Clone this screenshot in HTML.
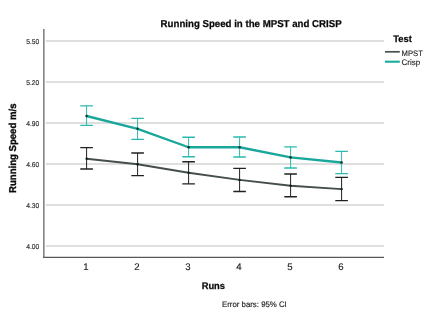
<!DOCTYPE html>
<html><head><meta charset="utf-8">
<style>
html,body{margin:0;padding:0;background:#fff;}
body{width:434px;height:317px;overflow:hidden;}
svg{display:block;will-change:transform;text-rendering:geometricPrecision;font-family:"Liberation Sans",sans-serif;}
</style></head><body>
<svg width="434" height="317" viewBox="0 0 434 317">
<rect width="434" height="317" fill="#fff"/>
<g stroke="#d4d4d4" stroke-width="1.4" fill="none">
<line x1="45.8" x2="384" y1="41.0" y2="41.0"/><line x1="45.8" x2="384" y1="82.0" y2="82.0"/><line x1="45.8" x2="384" y1="123.0" y2="123.0"/><line x1="45.8" x2="384" y1="164.0" y2="164.0"/><line x1="45.8" x2="384" y1="205.0" y2="205.0"/><line x1="45.8" x2="384" y1="246.05" y2="246.05"/>
</g>
<g stroke="#666" stroke-width="1.3" fill="none">
<line x1="43.85" x2="43.85" y1="29.1" y2="257.9"/>
</g>
<g stroke="#585858" stroke-width="1.15" fill="none">
<line x1="43.2" x2="384" y1="257.35" y2="257.35"/>
</g>
<text x="160.6" y="26.5" font-size="10" font-weight="bold" textLength="181" lengthAdjust="spacingAndGlyphs" fill="#0a0a0a" stroke="#0a0a0a" stroke-width="0.25">Running Speed in the MPST and CRISP</text>
<g font-size="7" fill="#2e2e2e" stroke="#2e2e2e" stroke-width="0.15" text-anchor="end">
<text x="39.3" y="43.75" textLength="13" lengthAdjust="spacingAndGlyphs">5.50</text><text x="39.3" y="84.75" textLength="13" lengthAdjust="spacingAndGlyphs">5.20</text><text x="39.3" y="125.75" textLength="13" lengthAdjust="spacingAndGlyphs">4.90</text><text x="39.3" y="166.75" textLength="13" lengthAdjust="spacingAndGlyphs">4.60</text><text x="39.3" y="207.75" textLength="13" lengthAdjust="spacingAndGlyphs">4.30</text><text x="39.3" y="248.80" textLength="13" lengthAdjust="spacingAndGlyphs">4.00</text>
</g>
<g font-size="9.6" fill="#1c1c1c" stroke="#1c1c1c" stroke-width="0.15" text-anchor="middle">
<text x="86.0" y="270.3">1</text><text x="137.0" y="270.3">2</text><text x="188.0" y="270.3">3</text><text x="239.0" y="270.3">4</text><text x="290.0" y="270.3">5</text><text x="341.0" y="270.3">6</text>
</g>
<text x="201.7" y="288.7" font-size="9.6" font-weight="bold" textLength="23.3" lengthAdjust="spacingAndGlyphs" fill="#0a0a0a" stroke="#0a0a0a" stroke-width="0.25">Runs</text>
<text x="222" y="306.6" font-size="8" textLength="64.8" lengthAdjust="spacingAndGlyphs" fill="#222" stroke="#222" stroke-width="0.15">Error bars: 95% CI</text>
<text transform="translate(16.3,193.0) rotate(-90)" font-size="10" font-weight="bold" textLength="89.5" lengthAdjust="spacingAndGlyphs" fill="#0a0a0a" stroke="#0a0a0a" stroke-width="0.35">Running Speed m/s</text>
<text x="393.2" y="42.3" font-size="9.5" font-weight="bold" textLength="18.6" lengthAdjust="spacingAndGlyphs" fill="#0a0a0a" stroke="#0a0a0a" stroke-width="0.25">Test</text>
<line x1="385" x2="399.8" y1="51.8" y2="51.8" stroke="#46524f" stroke-width="1.7"/>
<line x1="385" x2="399.8" y1="61.7" y2="61.7" stroke="#18ab9e" stroke-width="2.1"/>
<text x="401.6" y="55.8" font-size="8" textLength="21.3" lengthAdjust="spacingAndGlyphs" fill="#1c1c1c" stroke="#1c1c1c" stroke-width="0.12">MPST</text>
<text x="401.6" y="65.3" font-size="8" fill="#1c1c1c" stroke="#1c1c1c" stroke-width="0.12">Crisp</text>
<g stroke="#2bb9ae" fill="none">
<path stroke-width="1.0" d="M86.6 105.8V125.3"/><path stroke-width="1.35" d="M80.3 105.8H92.9M80.3 125.3H92.9"/>
<path stroke-width="1.0" d="M137.6 118.3V139.3"/><path stroke-width="1.35" d="M131.3 118.3H143.9M131.3 139.3H143.9"/>
<path stroke-width="1.0" d="M188.6 137.2V156.7"/><path stroke-width="1.35" d="M182.3 137.2H194.9M182.3 156.7H194.9"/>
<path stroke-width="1.0" d="M239.6 137.0V157.0"/><path stroke-width="1.35" d="M233.3 137.0H245.9M233.3 157.0H245.9"/>
<path stroke-width="1.0" d="M290.6 146.8V168.0"/><path stroke-width="1.35" d="M284.3 146.8H296.9M284.3 168.0H296.9"/>
<path stroke-width="1.0" d="M341.6 151.4V173.6"/><path stroke-width="1.35" d="M335.3 151.4H347.9M335.3 173.6H347.9"/>
</g>
<g stroke="#202020" fill="none">
<path stroke-width="1.0" d="M86.6 147.6V169.0"/><path stroke-width="1.35" d="M80.3 147.6H92.9M80.3 169.0H92.9"/>
<path stroke-width="1.0" d="M137.6 153.0V175.6"/><path stroke-width="1.35" d="M131.3 153.0H143.9M131.3 175.6H143.9"/>
<path stroke-width="1.0" d="M188.6 161.7V183.8"/><path stroke-width="1.35" d="M182.3 161.7H194.9M182.3 183.8H194.9"/>
<path stroke-width="1.0" d="M239.6 168.4V191.5"/><path stroke-width="1.35" d="M233.3 168.4H245.9M233.3 191.5H245.9"/>
<path stroke-width="1.0" d="M290.6 174.0V196.7"/><path stroke-width="1.35" d="M284.3 174.0H296.9M284.3 196.7H296.9"/>
<path stroke-width="1.0" d="M341.6 177.3V200.6"/><path stroke-width="1.35" d="M335.3 177.3H347.9M335.3 200.6H347.9"/>
</g>
<polyline fill="none" stroke="#1aa79b" stroke-width="2.35" stroke-linejoin="round" points="86.6,116.0 137.6,128.8 188.6,147.25 239.6,147.25 290.6,157.4 341.6,162.5"/>
<polyline fill="none" stroke="#434e4d" stroke-width="1.9" stroke-linejoin="round" points="86.6,158.8 137.6,164.2 188.6,172.8 239.6,179.9 290.6,185.7 341.6,189.1"/>
<g fill="#0b3834"><circle cx="86.6" cy="116.0" r="1.3"/><circle cx="137.6" cy="128.8" r="1.3"/><circle cx="188.6" cy="147.25" r="1.3"/><circle cx="239.6" cy="147.25" r="1.3"/><circle cx="290.6" cy="157.4" r="1.3"/><circle cx="341.6" cy="162.5" r="1.3"/></g>
<g fill="#0c2020"><circle cx="86.6" cy="158.8" r="1.2"/><circle cx="137.6" cy="164.2" r="1.2"/><circle cx="188.6" cy="172.8" r="1.2"/><circle cx="239.6" cy="179.9" r="1.2"/><circle cx="290.6" cy="185.7" r="1.2"/><circle cx="341.6" cy="189.1" r="1.2"/></g>
</svg>
</body></html>
